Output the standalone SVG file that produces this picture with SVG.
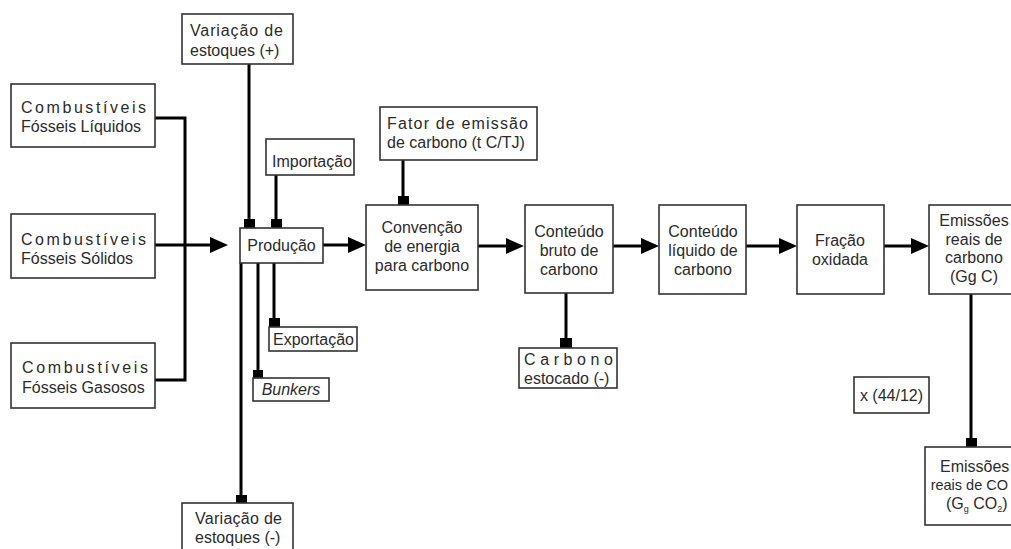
<svg xmlns="http://www.w3.org/2000/svg" width="1011" height="549" viewBox="0 0 1011 549">
<style>
.box{fill:#fff;stroke:#333;stroke-width:1.6}
.t{font-family:"Liberation Sans",Arial,sans-serif;font-size:16px;fill:#2b2b2b}
.c{text-anchor:middle}
.ln{fill:none;stroke:#000;stroke-width:3}
.hd{fill:#000}
.mk{fill:#000}
</style>
<rect width="1011" height="549" fill="#fff"/>
<g id="connectors">
<polyline class="ln" points="155,118 185,118 185,380 155,380"/>
<line class="ln" x1="155" y1="245" x2="212" y2="245"/>
<polygon class="hd" points="210,237 228,245 210,253"/>
<line class="ln" x1="249" y1="64" x2="249" y2="220"/>
<rect class="mk" x="244" y="219" width="11" height="9"/>
<line class="ln" x1="276" y1="175" x2="276" y2="220"/>
<rect class="mk" x="271" y="219" width="11" height="9"/>
<line class="ln" x1="323" y1="245" x2="350" y2="245"/>
<polygon class="hd" points="348,237 366,245 348,253"/>
<line class="ln" x1="274" y1="263" x2="274" y2="319"/>
<rect class="mk" x="269" y="318" width="11" height="9"/>
<line class="ln" x1="258" y1="263" x2="258" y2="371"/>
<rect class="mk" x="253" y="370" width="10" height="8"/>
<line class="ln" x1="241" y1="263" x2="241" y2="497"/>
<rect class="mk" x="236" y="495" width="11" height="8"/>
<line class="ln" x1="403" y1="160" x2="403" y2="197"/>
<rect class="mk" x="398" y="196" width="11" height="9"/>
<line class="ln" x1="478" y1="246" x2="508" y2="246"/>
<polygon class="hd" points="506,238 524,246 506,254"/>
<line class="ln" x1="613" y1="246" x2="643" y2="246"/>
<polygon class="hd" points="641,238 659,246 641,254"/>
<line class="ln" x1="746" y1="246" x2="781" y2="246"/>
<polygon class="hd" points="779,238 797,246 779,254"/>
<line class="ln" x1="884" y1="246" x2="913" y2="246"/>
<polygon class="hd" points="911,238 929,246 911,254"/>
<line class="ln" x1="566" y1="293" x2="566" y2="339"/>
<rect class="mk" x="560" y="338" width="12" height="10"/>
<line class="ln" x1="971" y1="294" x2="971" y2="439"/>
<rect class="mk" x="966" y="438" width="11" height="9"/>
</g>
<g id="var-mais">
<rect class="box" x="182" y="14" width="111" height="50"/>
<text class="t" x="190" y="36" textLength="93" lengthAdjust="spacing">Variação de</text>
<text class="t" x="190" y="56">estoques (+)</text>
</g>
<g id="liquidos">
<rect class="box" x="11" y="84" width="144" height="63"/>
<text class="t" x="21" y="113" textLength="125" lengthAdjust="spacing">Combustíveis</text>
<text class="t" x="21" y="132">Fósseis Líquidos</text>
</g>
<g id="importacao">
<rect class="box" x="266" y="139" width="88" height="36"/>
<text class="t" x="272" y="167">Importação</text>
</g>
<g id="solidos">
<rect class="box" x="11" y="214" width="144" height="64"/>
<text class="t" x="21" y="245" textLength="125" lengthAdjust="spacing">Combustíveis</text>
<text class="t" x="21" y="264">Fósseis Sólidos</text>
</g>
<g id="producao">
<rect class="box" x="240" y="228" width="83" height="35"/>
<text class="t c" x="281.5" y="251">Produção</text>
</g>
<g id="exportacao">
<rect class="box" x="269" y="327" width="88" height="24"/>
<text class="t" x="273" y="345">Exportação</text>
</g>
<g id="gasosos">
<rect class="box" x="11" y="343" width="144" height="65"/>
<text class="t" x="22" y="373" textLength="126" lengthAdjust="spacing">Combustíveis</text>
<text class="t" x="22" y="393">Fósseis Gasosos</text>
</g>
<g id="bunkers">
<rect class="box" x="253" y="378" width="76" height="23"/>
<text class="t c" x="291" y="395" font-style="italic">Bunkers</text>
</g>
<g id="var-menos">
<rect class="box" x="182" y="503" width="111" height="60"/>
<text class="t" x="195" y="524" textLength="87" lengthAdjust="spacing">Variação de</text>
<text class="t" x="195" y="543">estoques (-)</text>
</g>
<g id="fator">
<rect class="box" x="380" y="107" width="157" height="53"/>
<text class="t" x="387" y="129" textLength="141" lengthAdjust="spacing">Fator de emissão</text>
<text class="t" x="387" y="148">de carbono (t C/TJ)</text>
</g>
<g id="convencao">
<rect class="box" x="366" y="205" width="112" height="85"/>
<text class="t c" x="422" y="233">Convenção</text>
<text class="t c" x="422" y="252">de energia</text>
<text class="t c" x="422" y="271">para carbono</text>
</g>
<g id="bruto">
<rect class="box" x="525" y="205" width="88" height="88"/>
<text class="t c" x="569" y="237">Conteúdo</text>
<text class="t c" x="569" y="256">bruto de</text>
<text class="t c" x="569" y="275">carbono</text>
</g>
<g id="estocado">
<rect class="box" x="519" y="348" width="98" height="40"/>
<text class="t" x="524" y="365" textLength="89" lengthAdjust="spacing">Carbono</text>
<text class="t" x="524" y="384">estocado (-)</text>
</g>
<g id="liquido">
<rect class="box" x="659" y="205" width="87" height="89"/>
<text class="t c" x="703" y="237">Conteúdo</text>
<text class="t c" x="703" y="256">líquido de</text>
<text class="t c" x="703" y="275">carbono</text>
</g>
<g id="fracao">
<rect class="box" x="797" y="205" width="87" height="89"/>
<text class="t c" x="840" y="246">Fração</text>
<text class="t c" x="840" y="265">oxidada</text>
</g>
<g id="emissoes-c">
<rect class="box" x="929" y="205" width="100" height="89"/>
<text class="t c" x="974" y="226">Emissões</text>
<text class="t c" x="974" y="245">reais  de</text>
<text class="t c" x="974" y="263">carbono</text>
<text class="t c" x="974" y="282">(Gg C)</text>
</g>
<g id="fator-co2">
<rect class="box" x="854" y="377" width="75" height="36"/>
<text class="t c" x="891.5" y="401">x (44/12)</text>
</g>
<g id="emissoes-co2">
<rect class="box" x="925" y="447" width="100" height="78"/>
<text class="t" x="940" y="472">Emissões</text>
<text class="t" x="1008" y="490" text-anchor="end" style="font-size:14.5px">reais de CO</text>
<text class="t" x="946" y="509">(G<tspan font-size="9" dy="3">g</tspan><tspan dy="-3"> CO</tspan><tspan font-size="9" dy="3">2</tspan><tspan dy="-3">)</tspan></text>
</g>
</svg>
